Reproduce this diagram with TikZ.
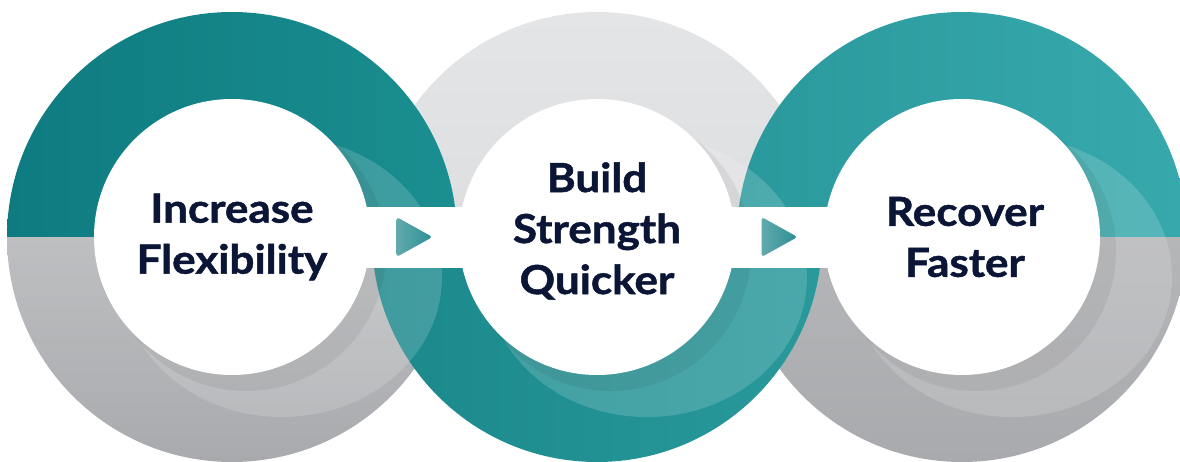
\documentclass[tikz,border=0pt]{standalone}
\usepackage{fontspec}
\setmainfont{Lato}[FakeStretch=1.1, BoldFeatures={FakeBold=1.2}]
\usetikzlibrary{calc}

\definecolor{navy}{HTML}{0B1636}
\definecolor{tealA}{HTML}{0E7B80}
\definecolor{tealB}{HTML}{1A8E90}
\definecolor{tealC}{HTML}{1B898C}
\definecolor{tealD}{HTML}{29999C}
\definecolor{tealE}{HTML}{2A999D}
\definecolor{tealF}{HTML}{37A9AC}
\definecolor{greyA}{HTML}{D3D4D6}
\definecolor{greyB}{HTML}{A8AAAD}
\definecolor{mistA}{HTML}{E4E5E7}
\definecolor{mistB}{HTML}{D6D7D9}
\definecolor{tipA}{HTML}{62AAAD}
\definecolor{tipB}{HTML}{2B8F93}

\tikzset{
  hub/.style={circle, fill=white, minimum size=276pt, inner sep=0pt},
  caption/.style={align=center, text=navy, font=\fontsize{40}{51}\selectfont\bfseries},
  swoosh/.style={white, opacity=0.16},
  shadow/.style={black, opacity=0.06},
  arrowtip/.style={left color=tipA, right color=tipB, rounded corners=3pt}
}

\begin{document}
\begin{tikzpicture}[x=1pt, y=-1pt]
\useasboundingbox (0,0) rectangle (1180,462);
\clip (0,0) rectangle (1180,462);

\begin{scope}
  \clip (0,237) rectangle (1180,470);
  \shade[top color=greyA, bottom color=greyB] (232,237) circle[radius=225];
  \shade[top color=greyA!90!black!95, bottom color=greyB] (962,237) circle[radius=225];
\end{scope}
\begin{scope}
  \clip (0,-10) rectangle (1180,237);
  \shade[top color=mistA, bottom color=mistB] (597,237) circle[radius=225];
  \shade[left color=tealA, right color=tealB] (232,237) circle[radius=225];
  \shade[left color=tealE, right color=tealF] (962,237) circle[radius=225];
\end{scope}
\begin{scope}
  \clip (0,237) rectangle (1180,470);
  \shade[left color=tealC, right color=tealD] (597,237) circle[radius=225];
\end{scope}

\foreach \cx in {232,597,962} {
  \fill[swoosh] (\cx+50,277) ellipse[x radius=160, y radius=140];
  \fill[shadow] (\cx+14,251) circle[radius=140];
}

\fill[white] (300,207) rectangle (900,268);

\node[hub] (flex)  at (232,237) {};
\node[hub] (build) at (597,237) {};
\node[hub] (fast)  at (962,237) {};

\node[caption] (flexT)  at (flex)  {Increase\\Flexibility};
\node[caption] (buildT) at ([yshift=6pt]build) {Build\\Strength\\Quicker};
\node[caption] (fastT)  at ([xshift=3pt]fast)  {Recover\\Faster};

\shade[arrowtip] ($(flex)!0.5!(build)$) ++(-18,-20) -- ++(36,20) -- ++(-36,20) -- cycle;
\shade[arrowtip] ($(build)!0.5!(fast)$) ++(-18,-20) -- ++(36,20) -- ++(-36,20) -- cycle;
\end{tikzpicture}
\end{document}
